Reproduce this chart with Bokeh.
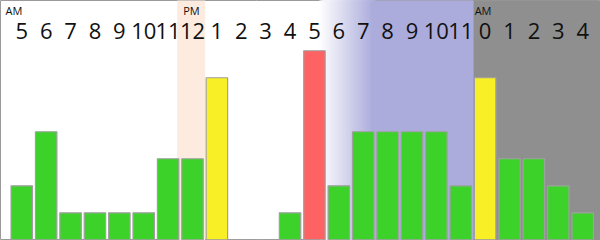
from bokeh.plotting import figure
from bokeh.models import ColumnDataSource, LabelSet, Range1d
from bokeh.core.properties import value
from bokeh.embed import file_html
from bokeh.resources import INLINE

# ---- data ----
hour_labels = ["5", "6", "7", "8", "9", "10", "11", "12", "1", "2", "3", "4",
               "5", "6", "7", "8", "9", "10", "11", "0", "1", "2", "3", "4"]
counts = [2, 4, 1, 1, 1, 1, 3, 3, 6, 0, 0, 1,
          7, 2, 4, 4, 4, 4, 2, 6, 3, 3, 2, 1]
bar_kind = ["normal"] * 8 + ["peak"] + ["normal"] * 3 + ["max"] + ["normal"] * 6 + ["peak"] + ["normal"] * 4
period_labels = ["AM", "PM", "AM"]
period_index = [0, 7, 19]

kind_color = {"normal": "#3cd22a", "peak": "#f8ef26", "max": "#ff6262"}

n = len(hour_labels)
xs = list(range(n))

p = figure(width=600, height=240, output_backend="svg", toolbar_location=None,
           x_range=Range1d(-0.873, 23.73), y_range=Range1d(-0.026, 8.86),
           min_border=0, min_border_left=0, min_border_right=0,
           min_border_top=0, min_border_bottom=0)
p.axis.visible = False
p.grid.visible = False
p.outline_line_color = "#9a9a9a"
p.outline_line_width = 1
p.background_fill_color = "white"

top = 8.86
# noon highlight
p.quad(left=[period_index[1] - 0.63], right=[period_index[1] + 0.52], bottom=[-1], top=[top + 1],
       fill_color="#fdebe0", line_color=None)

# evening gradient white -> purple, then purple, then night grey
g0, g1 = 12.2, 14.4
steps = 40
def mix(a, b, t):
    return "#%02x%02x%02x" % tuple(int(round(a[i] + (b[i] - a[i]) * t)) for i in range(3))
white = (255, 255, 255)
purple = (171, 172, 220)
gl = [g0 + (g1 - g0) * i / steps for i in range(steps)]
gr = [g1 + 0.05] * steps
gc = [mix(white, purple, (i + 0.5) / steps) for i in range(steps)]
p.quad(left=gl, right=gr, bottom=-1, top=top + 1, fill_color=gc, line_color=None)
night = period_index[2] - 0.49
p.quad(left=[g1], right=[night], bottom=[-1], top=[top + 1], fill_color="#abacdc", line_color=None)
p.quad(left=[night], right=[30], bottom=[-1], top=[top + 1], fill_color="#8f8f8f", line_color=None)

src = ColumnDataSource(dict(x=xs, top=counts, label=hour_labels,
                            color=[kind_color[k] for k in bar_kind]))
p.vbar(x="x", top="top", bottom=0, width=0.88, source=src,
       fill_color="color", line_color="#a0a0a0", line_width=1.2)

hl = LabelSet(x="x", y=202, y_units="screen", text="label", source=src,
              text_align="center", text_baseline="alphabetic",
              text_font=value("Open Sans"), text_font_size=value("22px"), text_color="#111111")
p.add_layout(hl)

px = [period_index[0] - 0.67, period_index[1] - 0.38, period_index[2] - 0.43]
psrc = ColumnDataSource(dict(x=px, label=period_labels))
pl = LabelSet(x="x", y=226, y_units="screen", text="label", source=psrc,
              text_align="left", text_baseline="alphabetic",
              text_font=value("Open Sans"), text_font_size=value("11px"), text_color="#111111")
p.add_layout(pl)

open("out.html", "w").write(file_html(p, INLINE))
